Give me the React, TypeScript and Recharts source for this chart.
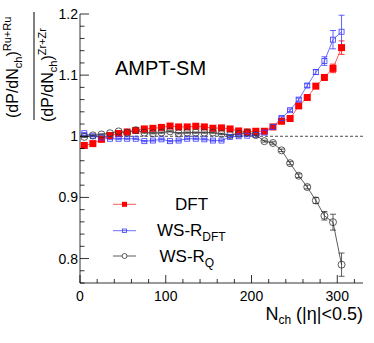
import React from "react";
import { LineChart, Line, XAxis, YAxis, ReferenceLine, ErrorBar } from "recharts";

// multiplicity bin centres
const nch = [5, 15, 25, 35, 45, 55, 65, 75, 85, 95, 105, 115, 125, 135, 145, 155, 165, 175, 185, 195, 205, 215, 225, 235, 245, 255, 265, 275, 285, 295, 305];

const dft = [0.985, 0.988, 0.995, 1.001, 1.0045, 1.007, 1.0095, 1.012, 1.013, 1.0145, 1.0167, 1.0153, 1.0153, 1.0164, 1.0153, 1.0131, 1.0137, 1.012, 1.0087, 1.0071, 1.0082, 1.0082, 1.0153, 1.0246, 1.029, 1.0497, 1.0634, 1.082, 1.0962, 1.111, 1.145];
const dftErr = [0.001, 0.001, 0.001, 0.001, 0.001, 0.001, 0.001, 0.001, 0.001, 0.001, 0.001, 0.001, 0.001, 0.001, 0.001, 0.001, 0.001, 0.001, 0.001, 0.001, 0.001, 0.001, 0.0015, 0.002, 0.002, 0.0025, 0.003, 0.003, 0.004, 0.007, 0.011];

const wsDft = [1.005, 1.0, 0.998, 0.996, 0.996, 0.996, 0.996, 0.992, 0.993, 0.995, 0.992, 0.993, 0.996, 0.996, 0.995, 0.993, 0.993, 0.999, 1.0, 1.001, 1.002, 1.006, 1.0153, 1.03, 1.0426, 1.06, 1.083, 1.105, 1.123, 1.158, 1.171];
const wsDftErr = [0.001, 0.001, 0.001, 0.001, 0.001, 0.001, 0.001, 0.001, 0.001, 0.001, 0.001, 0.001, 0.001, 0.001, 0.001, 0.001, 0.001, 0.001, 0.001, 0.001, 0.001, 0.001, 0.0015, 0.002, 0.002, 0.0025, 0.003, 0.004, 0.007, 0.015, 0.027];

const wsQ = [0.999, 1.0015, 1.003, 1.005, 1.008, 1.006, 1.01, 1.006, 1.005, 1.006, 1.008, 1.005, 1.006, 1.006, 1.006, 1.006, 1.004, 1.002, 1.004, 1.006, 1.002, 0.992, 0.989, 0.977, 0.956, 0.9355, 0.917, 0.895, 0.87, 0.8595, 0.79];
const wsQErr = [0.001, 0.001, 0.001, 0.001, 0.001, 0.001, 0.001, 0.001, 0.001, 0.001, 0.001, 0.001, 0.001, 0.001, 0.001, 0.001, 0.001, 0.001, 0.001, 0.001, 0.001, 0.0015, 0.002, 0.002, 0.0025, 0.003, 0.003, 0.005, 0.007, 0.013, 0.019];

const xTicks = [0, 20, 40, 60, 80, 100, 120, 140, 160, 180, 200, 220, 240, 260, 280, 300, 320];
const xMajor = [0, 100, 200, 300];
const yTicks = [0.76, 0.78, 0.8, 0.82, 0.84, 0.86, 0.88, 0.9, 0.92, 0.94, 0.96, 0.98, 1, 1.02, 1.04, 1.06, 1.08, 1.1, 1.12, 1.14, 1.16, 1.18, 1.2];
const yLabels: Record<string, string> = { "0.8": "0.8", "0.9": "0.9", "1": "1", "1.1": "1.1", "1.2": "1.2" };

const rows = nch.map((x, i) => ({
  x,
  dft: dft[i],
  dftErr: dftErr[i],
  wsDft: wsDft[i],
  wsDftErr: wsDftErr[i],
  wsQ: wsQ[i],
  wsQErr: wsQErr[i],
}));

const FONT = "'Liberation Sans', Arial, Helvetica, sans-serif";

const BottomTick = (p: any) => {
  const v = p.payload.value;
  const major = xMajor.includes(v);
  return (
    <g>
      <line x1={p.x} x2={p.x} y1={p.y} y2={p.y - (major ? 8 : 4)} stroke="#000" strokeWidth={0.8} />
      {major && (
        <text x={p.x} y={p.y + 18} textAnchor="middle" fontSize={14} fontFamily={FONT} fill="#000">
          {v}
        </text>
      )}
    </g>
  );
};

const TopTick = (p: any) => {
  const major = xMajor.includes(p.payload.value);
  return <line x1={p.x} x2={p.x} y1={p.y} y2={p.y + (major ? 8 : 4)} stroke="#000" strokeWidth={0.8} />;
};

const LeftTick = (p: any) => {
  const lab = yLabels[String(p.payload.value)];
  return (
    <g>
      <line x1={p.x} x2={p.x + (lab ? 9 : 4.5)} y1={p.y} y2={p.y} stroke="#000" strokeWidth={0.8} />
      {lab && (
        <text x={p.x - 2} y={p.y + 5} textAnchor="end" fontSize={14} fontFamily={FONT} fill="#000">
          {lab}
        </text>
      )}
    </g>
  );
};

const RightTick = (p: any) => {
  const lab = yLabels[String(p.payload.value)];
  return <line x1={p.x} x2={p.x - (lab ? 9 : 4.5)} y1={p.y} y2={p.y} stroke="#000" strokeWidth={0.8} />;
};

const redSquare = (p: any) =>
  p.cx == null ? <g key={p.index} /> : <rect key={p.index} x={p.cx - 3.5} y={p.cy - 3.5} width={7} height={7} fill="#ff0000" />;
const blueSquare = (p: any) =>
  p.cx == null ? <g key={p.index} /> : (
    <rect key={p.index} x={p.cx - 2.5} y={p.cy - 2.5} width={5} height={5} fill="none" stroke="#3a3aff" strokeWidth={0.8} />
  );
const blackCircle = (p: any) =>
  p.cx == null ? <g key={p.index} /> : (
    <circle key={p.index} cx={p.cx} cy={p.cy} r={3.5} fill="none" stroke="#333" strokeWidth={0.8} />
  );

export default function App() {
  return (
    <div style={{ position: "absolute", left: 0, top: 0, width: 374, height: 343, background: "#fff", fontFamily: FONT }}>
      <LineChart width={374} height={343} data={rows} margin={{ top: 14, right: 11, bottom: 0, left: 0 }}>
        <XAxis xAxisId="b" dataKey="x" type="number" domain={[0, 330]} ticks={xTicks} interval={0} height={60}
          axisLine={{ stroke: "#000", strokeWidth: 0.8 }} tickLine={false} tickSize={0} tickMargin={0} tick={<BottomTick />} allowDataOverflow />
        <XAxis xAxisId="t" orientation="top" dataKey="x" type="number" domain={[0, 330]} ticks={xTicks} interval={0} height={0}
          axisLine={{ stroke: "#000", strokeWidth: 0.8 }} tickLine={false} tickSize={0} tickMargin={0} tick={<TopTick />} allowDataOverflow />
        <YAxis yAxisId="l" type="number" domain={[0.76, 1.2]} ticks={yTicks} interval={0} width={80}
          axisLine={{ stroke: "#000", strokeWidth: 0.8 }} tickLine={false} tickSize={0} tickMargin={0} tick={<LeftTick />} allowDataOverflow />
        <YAxis yAxisId="r" orientation="right" type="number" domain={[0.76, 1.2]} ticks={yTicks} interval={0} width={0}
          axisLine={{ stroke: "#000", strokeWidth: 0.8 }} tickLine={false} tickSize={0} tickMargin={0} tick={<RightTick />} allowDataOverflow />
        <ReferenceLine xAxisId="b" yAxisId="l" y={1} stroke="#000" strokeWidth={0.7} strokeDasharray="3 2" />
        <Line xAxisId="b" yAxisId="l" dataKey="dft" stroke="#ff3030" strokeWidth={0.8} dot={redSquare} isAnimationActive={false}>
          <ErrorBar dataKey="dftErr" direction="y" width={3} stroke="#ff0000" strokeWidth={0.8} />
        </Line>
        <Line xAxisId="b" yAxisId="l" dataKey="wsDft" stroke="#4a4aff" strokeWidth={0.8} dot={blueSquare} isAnimationActive={false}>
          <ErrorBar dataKey="wsDftErr" direction="y" width={3} stroke="#3a3aff" strokeWidth={0.8} />
        </Line>
        <Line xAxisId="b" yAxisId="l" dataKey="wsQ" stroke="#333" strokeWidth={0.8} dot={blackCircle} isAnimationActive={false}>
          <ErrorBar dataKey="wsQErr" direction="y" width={3} stroke="#333" strokeWidth={0.8} />
        </Line>
      </LineChart>

      <svg width={374} height={343} style={{ position: "absolute", left: 0, top: 0, pointerEvents: "none" }} fontFamily={FONT}>
        {/* y-axis title: ratio of the two distributions */}
        <g transform="rotate(-90)">
          <text x={-118} y={18} fontSize={16} fill="#000">
            (dP/dN<tspan fontSize={11} dy={4}>ch</tspan>
            <tspan dy={-4}>)</tspan>
            <tspan fontSize={11} dy={-7}>Ru+Ru</tspan>
          </text>
          <text x={-122} y={53} fontSize={16} fill="#000">
            (dP/dN<tspan fontSize={11} dy={4}>ch</tspan>
            <tspan dy={-4}>)</tspan>
            <tspan fontSize={11} dy={-7}>Zr+Zr</tspan>
          </text>
        </g>
        <line x1={34} x2={34} y1={12} y2={120} stroke="#000" strokeWidth={1} />

        <text x={115} y={75} fontSize={20} fill="#000">AMPT-SM</text>

        {/* legend */}
        <line x1={113} x2={136} y1={204.3} y2={204.3} stroke="#ff3030" strokeWidth={0.8} />
        <rect x={122} y={201.8} width={5} height={5} fill="#ff0000" />
        <text x={175} y={209.5} fontSize={17} fill="#000">DFT</text>

        <line x1={113} x2={136} y1={230.7} y2={230.7} stroke="#4a4aff" strokeWidth={0.8} />
        <rect x={122.5} y={229} width={4} height={3.4} fill="none" stroke="#3a3aff" strokeWidth={0.8} />
        <text x={157} y={236} fontSize={17} fill="#000">
          WS-R<tspan fontSize={12} dy={5}>DFT</tspan>
        </text>

        <line x1={113} x2={136} y1={256} y2={256} stroke="#333" strokeWidth={0.8} />
        <circle cx={124.5} cy={256} r={2.5} fill="#fff" stroke="#333" strokeWidth={0.8} />
        <text x={159.5} y={261.7} fontSize={17} fill="#000">
          WS-R<tspan fontSize={12} dy={5}>Q</tspan>
        </text>

        <text x={363} y={320} fontSize={18} textAnchor="end" fill="#000">
          N<tspan fontSize={12} dy={4}>ch</tspan>
          <tspan dy={-4}> (|η|&lt;0.5)</tspan>
        </text>
      </svg>
    </div>
  );
}
